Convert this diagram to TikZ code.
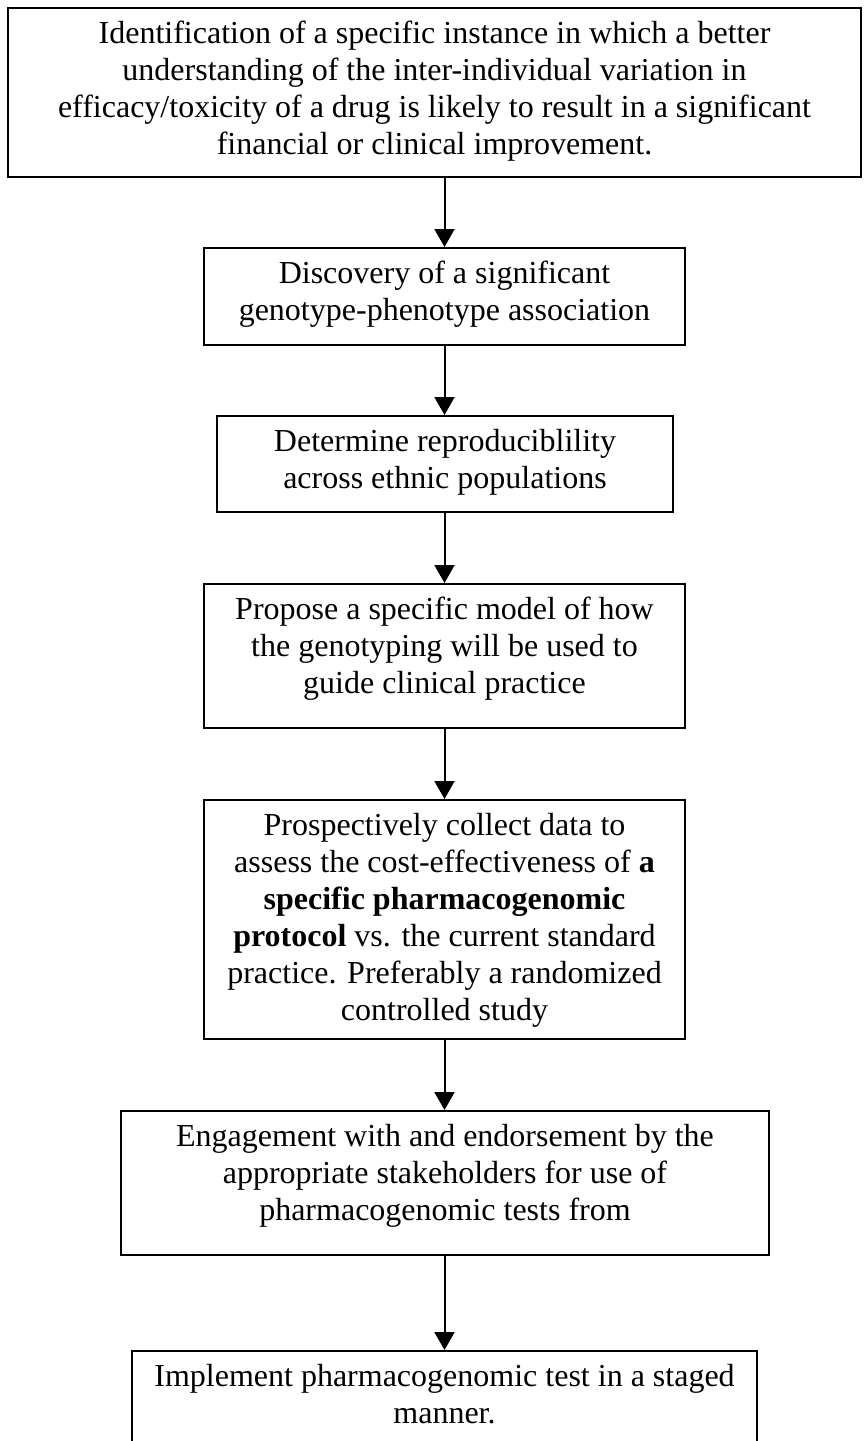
\documentclass[tikz,border=0pt]{standalone}
\usepackage{fontspec}
\setmainfont{Liberation Serif}
\usetikzlibrary{arrows.meta,positioning}

\tikzset{
  stage/.style={draw, line width=1pt, inner sep=0pt},
  stagetext/.style={anchor=north, align=center, inner sep=0pt, font=\fontsize{16}{18.5}\selectfont},
  flow/.style={-{Triangle[width=10pt,length=9pt]}, line width=1pt},
}

\begin{document}
\begin{tikzpicture}[x=0.5pt,y=-0.5pt]
  \useasboundingbox (0,0) rectangle (864,1441);
  \clip (0,0) rectangle (864,1441);

  \node[stage, minimum width=426.5pt, minimum height=84.5pt] (idbox) at (434.5,92.5) {};
  \node[stagetext] (idtext) at ([yshift=-7pt]idbox.north) {Identification of a specific instance in which a better\\
    understanding of the inter-individual variation in\\
    efficacy/toxicity of a drug is likely to result in a significant\\
    financial or clinical improvement.};

  \node[stage, minimum width=240.5pt, minimum height=48.5pt] (discbox) at (444.5,296.5) {};
  \node[stagetext] (disctext) at ([yshift=-7pt]discbox.north) {Discovery of a significant\\
    genotype-phenotype association};

  \node[stage, minimum width=228pt, minimum height=48pt] (reprbox) at (445,464) {};
  \node[stagetext] (reprtext) at ([yshift=-7pt]reprbox.north) {Determine reproduciblility\\
    across ethnic populations};

  \node[stage, minimum width=240.5pt, minimum height=72pt] (modelbox) at (444.5,656) {};
  \node[stagetext] (modeltext) at ([yshift=-7pt]modelbox.north) {Propose a specific model of how\\
    the genotyping will be used to\\
    guide clinical practice};

  \node[stage, minimum width=240.5pt, minimum height=119.5pt] (databox) at (444.5,919.5) {};
  \node[stagetext] (datatext) at ([yshift=-7pt]databox.north) {Prospectively collect data to\\
    assess the cost-effectiveness of \textbf{a}\\
    \textbf{specific pharmacogenomic}\\
    \textbf{protocol} vs. the current standard\\
    practice. Preferably a randomized\\
    controlled study};

  \node[stage, minimum width=324pt, minimum height=72pt] (engbox) at (445,1183) {};
  \node[stagetext] (engtext) at ([yshift=-7pt]engbox.north) {Engagement with and endorsement by the\\
    appropriate stakeholders for use of\\
    pharmacogenomic tests from};

  \node[stage, minimum width=312.5pt, minimum height=49pt] (implbox) at (444.5,1400) {};
  \node[stagetext] (impltext) at ([yshift=-7pt]implbox.north) {Implement pharmacogenomic test in a staged\\
    manner.};

  \draw[flow] (idbox.south -| discbox.north) -- (discbox.north);
  \draw[flow] (discbox.south) -- (discbox.south |- reprbox.north);
  \draw[flow] (reprbox.south -| discbox.south) -- (discbox.south |- modelbox.north);
  \draw[flow] (modelbox.south) -- (databox.north);
  \draw[flow] (databox.south) -- (databox.south |- engbox.north);
  \draw[flow] (engbox.south -| databox.south) -- (databox.south |- implbox.north);
\end{tikzpicture}
\end{document}
